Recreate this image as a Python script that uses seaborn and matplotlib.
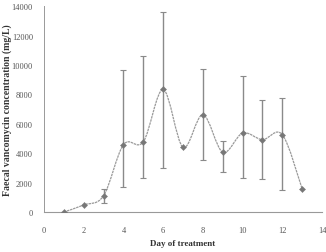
import numpy as np
import matplotlib
matplotlib.use("Agg")
import matplotlib.pyplot as plt
from matplotlib.path import Path
from matplotlib.patches import PathPatch
import seaborn as sns

days = [1, 2, 3, 4, 5, 6, 7, 8, 9, 10, 11, 12, 13]
conc = [0, 480, 1110, 4580, 4770, 8330, 4400, 6620, 4060, 5370, 4920, 5260, 1560]
err_low = [0, 0, 610, 1700, 2310, 3000, 0, 3560, 2700, 2290, 2240, 1520, 0]
err_high = [0, 0, 1560, 9680, 10590, 13580, 0, 9700, 4850, 9230, 7640, 7750, 0]

sns.set_style("white")
plt.rcParams['font.family'] = ['Liberation Serif', 'DejaVu Serif']

fig = plt.figure(figsize=(3.26, 2.53), dpi=100)
ax = fig.add_axes([0.135, 0.158, 0.853, 0.814])

grey = "#8a8a8a"

# error bars only where a range exists
has_err = [i for i in range(len(days)) if err_high[i] > 0]
x_e = [days[i] for i in has_err]
y_e = [conc[i] for i in has_err]
lo = [conc[i] - err_low[i] for i in has_err]
hi = [err_high[i] - conc[i] for i in has_err]
ax.errorbar(x_e, y_e, yerr=[lo, hi], fmt="none", ecolor=grey,
            elinewidth=1.0, capsize=2, capthick=0.8)

# smoothed connecting line (Catmull-Rom style Bezier, like a spreadsheet "smooth line")
pts = np.column_stack([days, conc]).astype(float)
verts = [pts[0]]
codes = [Path.MOVETO]
n = len(pts)
for i in range(n - 1):
    p0 = pts[i - 1] if i > 0 else pts[i]
    p1 = pts[i]
    p2 = pts[i + 1]
    p3 = pts[i + 2] if i + 2 < n else pts[i + 1]
    c1 = p1 + (p2 - p0) / 6
    c2 = p2 - (p3 - p1) / 6
    verts += [c1, c2, p2]
    codes += [Path.CURVE4] * 3
ax.add_patch(PathPatch(Path(verts, codes), fill=False, edgecolor="#9a9a9a",
                       lw=0.9, linestyle=(0, (2, 0.6))))

sns.scatterplot(x=days, y=conc, marker="D", s=10, color="#777777",
                edgecolor="#777777", ax=ax, zorder=5)

ax.set_xlim(0, 14)
ax.set_ylim(0, 14000)
ax.set_xticks(range(0, 15, 2))
ax.set_yticks(range(0, 14001, 2000))
ax.tick_params(axis="both", labelsize=6, colors="#555555", length=2, width=0.6,
               direction="out", pad=6)
ax.tick_params(axis="x", pad=8)
for s in ["top", "right"]:
    ax.spines[s].set_visible(False)
ax.spines["left"].set_color("#999999")
ax.spines["left"].set_linewidth(0.7)
ax.spines["bottom"].set_color("#999999")
ax.spines["bottom"].set_linewidth(0.8)
ax.spines["bottom"].set_linestyle((0, (1, 1)))

ax.set_xlabel("Day of treatment", fontsize=6.5, fontweight="bold", color="#333333",
              labelpad=4)
ax.set_ylabel("Faecal vancomycin concentration (mg/L)", fontsize=7,
              fontweight="bold", color="#333333")
ax.yaxis.set_label_coords(-0.115, 0.5)

fig.savefig("out.png", dpi=100)
